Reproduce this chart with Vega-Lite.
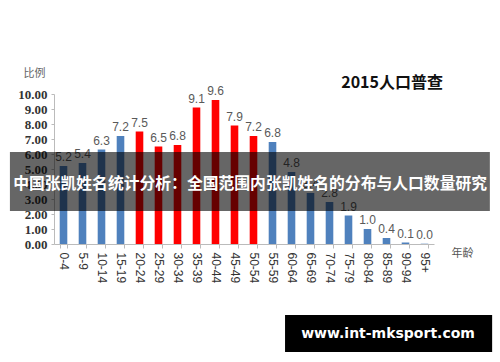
{
  "$schema": "https://vega.github.io/schema/vega-lite/v6.json",
  "width": 380,
  "height": 150,
  "autosize": "none",
  "padding": {"left": 54, "top": 94, "right": 66, "bottom": 118},
  "background": "white",
  "config": {"view": {"stroke": null}},
  "title": {
    "text": "2015人口普查",
    "anchor": "end",
    "frame": "group",
    "font": "Noto Sans CJK SC",
    "fontSize": 16,
    "fontWeight": "bold",
    "color": "#111111",
    "dx": 9,
    "dy": 30,
    "offset": 6
  },
  "datasets": {
    "bars": [
      {"age": "0-4", "value": 5.2, "group": "blue"},
      {"age": "5-9", "value": 5.4, "group": "blue"},
      {"age": "10-14", "value": 6.3, "group": "blue"},
      {"age": "15-19", "value": 7.2, "group": "blue"},
      {"age": "20-24", "value": 7.5, "group": "red"},
      {"age": "25-29", "value": 6.5, "group": "red"},
      {"age": "30-34", "value": 6.6, "label": "6.8", "group": "red"},
      {"age": "35-39", "value": 9.1, "group": "red"},
      {"age": "40-44", "value": 9.6, "group": "red"},
      {"age": "45-49", "value": 7.9, "group": "red"},
      {"age": "50-54", "value": 7.2, "group": "red"},
      {"age": "55-59", "value": 6.8, "group": "blue"},
      {"age": "60-64", "value": 4.8, "group": "blue"},
      {"age": "65-69", "value": 3.4, "group": "blue"},
      {"age": "70-74", "value": 2.8, "group": "blue"},
      {"age": "75-79", "value": 1.9, "group": "blue"},
      {"age": "80-84", "value": 1.0, "group": "blue"},
      {"age": "85-89", "value": 0.4, "group": "blue"},
      {"age": "90-94", "value": 0.1, "group": "blue"},
      {"age": "95+", "value": 0.02, "label": "0.0", "group": "blue"}
    ],
    "banner": [
      {"x1": -0.116, "x2": 1.147, "y1": 2.2, "y2": 6.13, "xc": 0.516, "yc": 4.0, "text": "中国张凯姓名统计分析：全国范围内张凯姓名的分布与人口数量研究"}
    ],
    "mark": [
      {"x1": 0.608, "x2": 1.153, "y1": -4.73, "y2": -7.2, "xc": 0.879, "yc": -6.0, "text": "www.int-mksport.com"}
    ]
  },
  "layer": [
    {
      "data": {"name": "bars"},
      "mark": {"type": "bar"},
      "encoding": {
        "x": {
          "field": "age", "type": "nominal", "sort": null,
          "scale": {"paddingInner": 0.6, "paddingOuter": 0.3},
          "axis": {
            "labelAngle": 90, "labelAlign": "left", "labelBaseline": "middle",
            "labelFont": "Liberation Sans", "labelFontSize": 12, "labelColor": "#333333",
            "labelPadding": 4, "tickSize": 4, "tickColor": "#bbbbbb", "domainColor": "#bbbbbb",
            "tickBand": "extent", "labelOverlap": false,
            "title": "年龄", "titleAngle": 0, "titleX": 408, "titleY": 9,
            "titleAlign": "center", "titleBaseline": "middle",
            "titleFont": "Noto Sans CJK SC", "titleFontSize": 11, "titleFontWeight": "normal", "titleColor": "#555555"
          }
        },
        "y": {
          "field": "value", "type": "quantitative",
          "scale": {"domain": [0, 10], "nice": false},
          "axis": {
            "values": [0, 1, 2, 3, 4, 5, 6, 7, 8, 9, 10],
            "format": ".2f", "grid": false, "labelOverlap": false, "labelFlush": false,
            "labelFont": "Liberation Serif", "labelFontSize": 13, "labelFontWeight": "bold", "labelColor": "#333333",
            "labelPadding": 4, "tickSize": 3, "tickColor": "#bbbbbb", "domainColor": "#bbbbbb",
            "title": "比例", "titleAngle": 0, "titleX": -20, "titleY": -21,
            "titleAlign": "center", "titleBaseline": "middle",
            "titleFont": "Noto Sans CJK SC", "titleFontSize": 11, "titleFontWeight": "normal", "titleColor": "#666666"
          }
        },
        "color": {
          "field": "group", "type": "nominal",
          "scale": {"domain": ["blue", "red"], "range": ["#4f81bd", "#ff0000"]},
          "legend": null
        }
      }
    },
    {
      "data": {"name": "bars"},
      "transform": [{"calculate": "datum.label ? datum.label : format(datum.value, '.1f')", "as": "lab"}],
      "mark": {"type": "text", "dy": -9, "font": "Liberation Sans", "fontSize": 12, "color": "#595959"},
      "encoding": {
        "x": {"field": "age", "type": "nominal", "sort": null, "scale": {"paddingInner": 0.6, "paddingOuter": 0.3}, "axis": null},
        "y": {"field": "value", "type": "quantitative", "scale": {"domain": [0, 10], "nice": false}, "axis": null},
        "text": {"field": "lab"}
      }
    },
    {
      "data": {"name": "banner"},
      "mark": {"type": "rect", "color": "#000000", "opacity": 0.6},
      "encoding": {
        "x": {"field": "x1", "type": "quantitative", "scale": {"domain": [0, 1], "nice": false, "zero": false}, "axis": null},
        "x2": {"field": "x2"},
        "y": {"field": "y1", "type": "quantitative", "scale": {"domain": [0, 10], "nice": false}, "axis": null},
        "y2": {"field": "y2"}
      }
    },
    {
      "data": {"name": "banner"},
      "mark": {"type": "text", "font": "Noto Sans CJK SC", "fontSize": 15.8, "fontWeight": "bold", "color": "#ffffff", "baseline": "middle", "align": "center"},
      "encoding": {
        "x": {"field": "xc", "type": "quantitative", "scale": {"domain": [0, 1], "nice": false, "zero": false}, "axis": null},
        "y": {"field": "yc", "type": "quantitative", "scale": {"domain": [0, 10], "nice": false}, "axis": null},
        "text": {"field": "text"}
      }
    },
    {
      "data": {"name": "mark"},
      "mark": {"type": "rect", "color": "#000000", "opacity": 1},
      "encoding": {
        "x": {"field": "x1", "type": "quantitative", "scale": {"domain": [0, 1], "nice": false, "zero": false}, "axis": null},
        "x2": {"field": "x2"},
        "y": {"field": "y1", "type": "quantitative", "scale": {"domain": [0, 10], "nice": false}, "axis": null},
        "y2": {"field": "y2"}
      }
    },
    {
      "data": {"name": "mark"},
      "mark": {"type": "text", "font": "DejaVu Sans", "fontSize": 14, "fontWeight": "bold", "color": "#ffffff", "baseline": "middle", "align": "center"},
      "encoding": {
        "x": {"field": "xc", "type": "quantitative", "scale": {"domain": [0, 1], "nice": false, "zero": false}, "axis": null},
        "y": {"field": "yc", "type": "quantitative", "scale": {"domain": [0, 10], "nice": false}, "axis": null},
        "text": {"field": "text"}
      }
    }
  ],
  "resolve": {"scale": {"x": "independent"}, "axis": {"y": "independent"}}
}
